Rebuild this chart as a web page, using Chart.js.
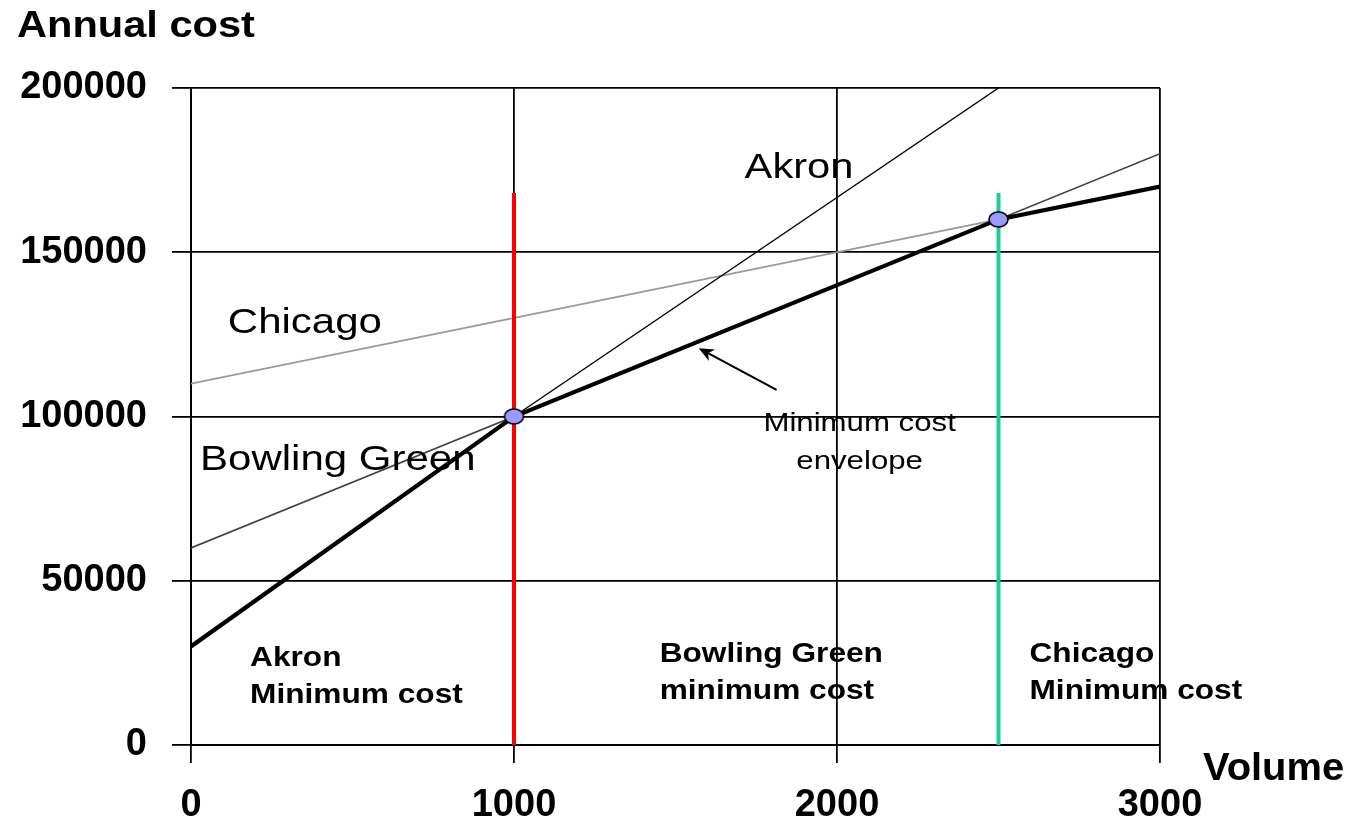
<!DOCTYPE html>
<html>
<head>
<meta charset="utf-8">
<title>Annual cost by volume</title>
<script src="https://cdn.jsdelivr.net/npm/chart.js@4/dist/chart.umd.min.js"></script>
<style>
  html, body { margin: 0; padding: 0; background: #fff; }
  #wrap { width: 1358px; height: 821px; position: relative; }
</style>
</head>
<body>
<div id="wrap"><canvas id="chart"></canvas></div>
<script>
// Cost lines per plant location (volume -> annual cost)
const akronVolume = [0, 1000, 2500];
const akronCost = [30000, 100000, 200000];

const bowlingGreenVolume = [0, 3000];
const bowlingGreenCost = [60000, 180000];

const chicagoVolume = [0, 2500, 3000];
const chicagoCost = [110000, 160000, 170000];

// Lowest cost over all three locations
const envelopeVolume = [0, 1000, 2500, 3000];
const envelopeCost = [30000, 100000, 160000, 170000];

// Break-even points between neighbouring locations
const breakEvenVolume = [1000, 2500];
const breakEvenCost = [100000, 160000];
const dividerTop = 168000;

// Axis ticks
const xTicks = [0, 1000, 2000, 3000];
const yTicks = [0, 50000, 100000, 150000, 200000];

const FONT = '"Liberation Sans", Arial, Helvetica, sans-serif';

const pts = (xs, ys) => xs.map((v, i) => ({ x: v, y: ys[i] }));

// Ellipse marker for the break-even points
function ellipseMarker() {
  const c = document.createElement('canvas');
  c.width = 23; c.height = 19;
  const g = c.getContext('2d');
  g.beginPath();
  g.ellipse(11.5, 9.5, 9.5, 7.5, 0, 0, Math.PI * 2);
  g.fillStyle = '#9999ff';
  g.fill();
  g.lineWidth = 1.6;
  g.strokeStyle = '#000';
  g.stroke();
  return c;
}

// Free text and arrow drawn on top of the plot
const notesPlugin = {
  id: 'notes',
  afterDatasetsDraw(chart, args, opts) {
    const { ctx, scales: { x, y } } = chart;
    ctx.save();
    ctx.fillStyle = '#000';
    for (const n of opts.items) {
      const px = n.canvas ? n.x : x.getPixelForValue(n.x);
      const py = n.canvas ? n.y : y.getPixelForValue(n.y);
      const gap = n.lineGap || 0;
      ctx.font = (n.bold ? 'bold ' : '') + n.size + 'px ' + FONT;
      ctx.textAlign = n.align || 'left';
      ctx.textBaseline = 'alphabetic';
      n.lines.forEach((t, i) => {
        ctx.save();
        ctx.translate(px, py + i * gap);
        ctx.scale(n.stretch || 1, 1);
        ctx.fillText(t, 0, 0);
        ctx.restore();
      });
    }
    // arrow pointing at the envelope
    const a = opts.arrow;
    const x0 = x.getPixelForValue(a.from[0]), y0 = y.getPixelForValue(a.from[1]);
    const x1 = x.getPixelForValue(a.to[0]), y1 = y.getPixelForValue(a.to[1]);
    const ang = Math.atan2(y1 - y0, x1 - x0);
    const head = 15, half = 6.5;
    const cx = Math.cos(ang), sy = Math.sin(ang);
    ctx.strokeStyle = '#000';
    ctx.lineWidth = 2.2;
    ctx.beginPath();
    ctx.moveTo(x0, y0);
    ctx.lineTo(x1 - cx * head * 0.7, y1 - sy * head * 0.7);
    ctx.stroke();
    ctx.beginPath();
    ctx.moveTo(x1, y1);
    ctx.lineTo(x1 - cx * head + sy * half, y1 - sy * head - cx * half);
    ctx.lineTo(x1 - cx * head * 0.7, y1 - sy * head * 0.7);
    ctx.lineTo(x1 - cx * head - sy * half, y1 - sy * head + cx * half);
    ctx.closePath();
    ctx.fillStyle = '#000';
    ctx.fill();
    ctx.restore();
  }
};

const lineDs = (label, data, color, width) => ({
  label, data, borderColor: color, borderWidth: width,
  pointRadius: 0, pointHoverRadius: 0, fill: false, tension: 0,
  borderCapStyle: 'butt'
});

new Chart(document.getElementById('chart'), {
  type: 'line',
  data: {
    datasets: [
      {
        label: 'Break-even',
        data: pts(breakEvenVolume, breakEvenCost),
        showLine: false,
        pointStyle: ellipseMarker(),
        pointRadius: 10,
        pointHoverRadius: 10
      },
      lineDs('Minimum cost envelope', pts(envelopeVolume, envelopeCost), '#000', 4.2),
      lineDs('Akron / Bowling Green', pts([breakEvenVolume[0], breakEvenVolume[0]], [0, dividerTop]), '#ff0000', 4),
      lineDs('Bowling Green / Chicago', pts([breakEvenVolume[1], breakEvenVolume[1]], [0, dividerTop]), '#1ecc99', 4),
      lineDs('Akron', pts(akronVolume, akronCost), '#000', 1.4),
      lineDs('Bowling Green', pts(bowlingGreenVolume, bowlingGreenCost), '#404040', 1.6),
      lineDs('Chicago', pts(chicagoVolume, chicagoCost), '#999999', 1.6)
    ]
  },
  options: {
    responsive: true,
    maintainAspectRatio: false,
    animation: false,
    events: [],
    layout: { padding: { left: 20, top: 88, right: 198, bottom: 0 } },
    plugins: {
      legend: { display: false },
      tooltip: { enabled: false },
      notes: {
        items: [
          { canvas: true, x: 17, y: 37, lines: ['Annual cost'], size: 36, bold: true, stretch: 1.155 },
          { canvas: true, x: 1203, y: 780, lines: ['Volume'], size: 38, bold: true, stretch: 1.05 },
          { x: 1714, y: 172600, lines: ['Akron'], size: 35, stretch: 1.19 },
          { x: 114, y: 125400, lines: ['Chicago'], size: 35, stretch: 1.2 },
          { x: 28, y: 83800, lines: ['Bowling Green'], size: 35, stretch: 1.2 },
          { x: 2070, y: 95600, lines: ['Minimum cost', 'envelope'], size: 26, stretch: 1.2, align: 'center', lineGap: 38 },
          { x: 183, y: 24200, lines: ['Akron', 'Minimum cost'], size: 28, bold: true, stretch: 1.13, lineGap: 37 },
          { x: 1451, y: 25400, lines: ['Bowling Green', 'minimum cost'], size: 28, bold: true, stretch: 1.13, lineGap: 37 },
          { x: 2596, y: 25400, lines: ['Chicago', 'Minimum cost'], size: 28, bold: true, stretch: 1.13, lineGap: 37 }
        ],
        arrow: { from: [1813, 108100], to: [1572, 120800] }
      }
    },
    scales: {
      x: {
        type: 'linear',
        min: xTicks[0],
        max: xTicks[xTicks.length - 1],
        afterBuildTicks: s => { s.ticks = xTicks.map(v => ({ value: v })); },
        afterFit: s => { s.height = 76; },
        ticks: {
          color: '#000',
          padding: 24,
          maxRotation: 0,
          font: { family: FONT, size: 38, weight: 'bold', lineHeight: 1 },
          callback: v => String(v)
        },
        grid: { color: '#000', lineWidth: 1.8, tickLength: 18, tickColor: '#000', tickWidth: 1.8 },
        border: { display: true, color: '#000', width: 2 }
      },
      y: {
        type: 'linear',
        min: yTicks[0],
        max: yTicks[yTicks.length - 1],
        afterBuildTicks: s => { s.ticks = yTicks.map(v => ({ value: v })); },
        afterFit: s => { s.width = 171; },
        ticks: {
          color: '#000',
          padding: 25,
          font: { family: FONT, size: 38, weight: 'bold', lineHeight: 1 },
          callback: v => String(v)
        },
        grid: { color: '#000', lineWidth: 1.8, tickLength: 19, tickColor: '#000', tickWidth: 1.8 },
        border: { display: true, color: '#000', width: 2 }
      }
    }
  },
  plugins: [notesPlugin]
});
</script>
</body>
</html>
